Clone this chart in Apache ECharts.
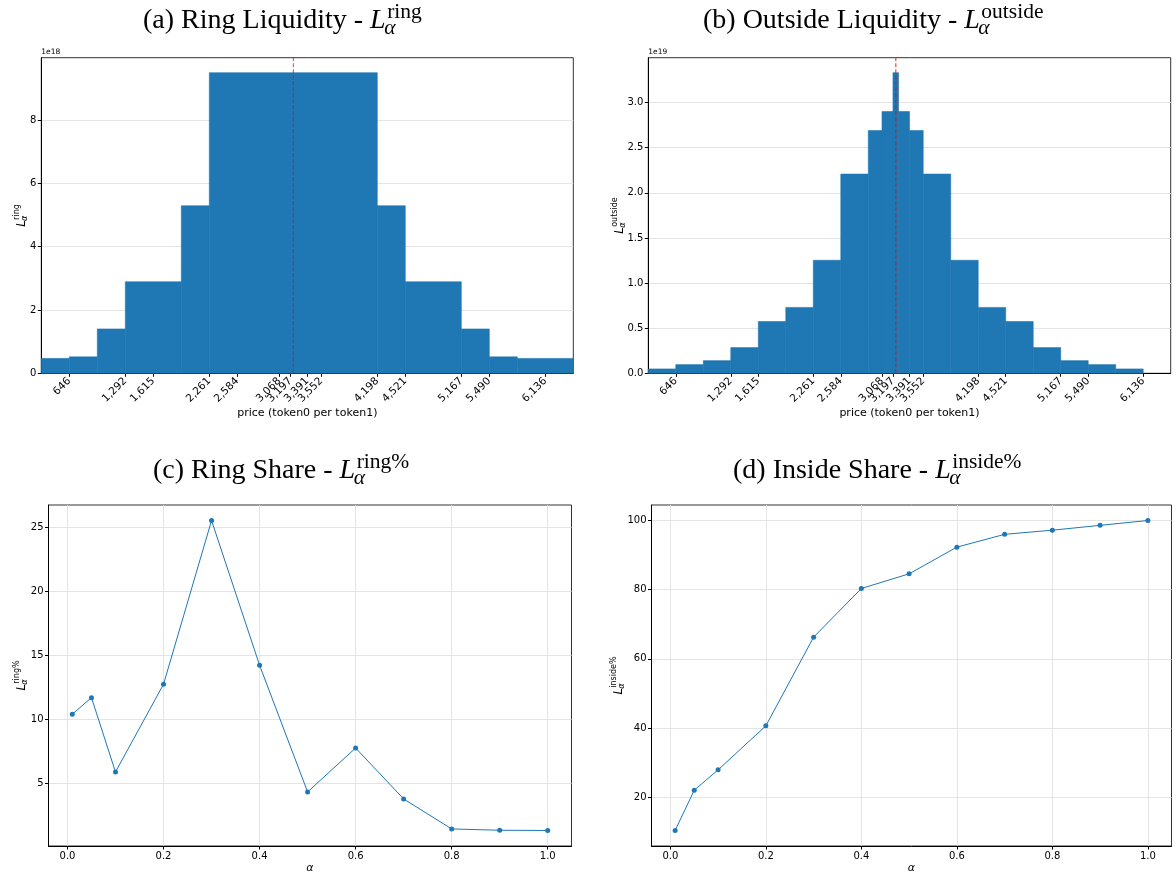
<!DOCTYPE html>
<html><head><meta charset="utf-8">
<script src="https://cdn.jsdelivr.net/npm/echarts@6/dist/echarts.min.js"></script>
<style>html,body{margin:0;padding:0;background:#fff}#c{width:1176px;height:879px}</style>
</head><body><div id="c"></div>
<script>
// ---------------- data ----------------
const priceTicks = [646, 1292, 1615, 2261, 2584, 3068, 3197, 3391, 3552, 4198, 4521, 5167, 5490, 6136];
const currentPrice = 3230;
const ringEdges = [323, 646, 969, 1292, 1938, 2261, 4198, 4521, 5167, 5490, 5813, 6459];
const ringValues = [0.47, 0.52, 1.40, 2.89, 5.29, 9.49, 5.29, 2.89, 1.40, 0.52, 0.47]; // x1e18
const outsideEdges = [323, 646, 969, 1292, 1615, 1938, 2261, 2584, 2907, 3068, 3197, 3262, 3391, 3552, 3875, 4198, 4521, 4844, 5167, 5490, 5813, 6136];
const outsideValues = [0.048, 0.096, 0.14, 0.285, 0.574, 0.73, 1.252, 2.207, 2.689, 2.90, 3.33, 2.90, 2.689, 2.207, 1.252, 0.73, 0.574, 0.285, 0.14, 0.096, 0.048]; // x1e19
const alphas = [0.01, 0.05, 0.1, 0.2, 0.3, 0.4, 0.5, 0.6, 0.7, 0.8, 0.9, 1.0];
const ringShare = [10.38, 11.68, 5.86, 12.73, 25.55, 14.22, 4.3, 7.74, 3.75, 1.4, 1.3, 1.28];
const insideShare = [10.36, 22.02, 27.9, 40.63, 66.27, 80.34, 84.58, 92.3, 96.0, 97.2, 98.6, 100.0];
const ringYTicks = [0, 2, 4, 6, 8];
const outsideYTicks = [0, 0.5, 1.0, 1.5, 2.0, 2.5, 3.0];
const ringShareYTicks = [5, 10, 15, 20, 25];
const insideYTicks = [20, 40, 60, 80, 100];
const alphaTicks = [0, 0.2, 0.4, 0.6, 0.8, 1.0];

// ---------------- helpers ----------------
const blue = '#1f77b4';
const SANS = '"DejaVu Sans"';
function pad(lo, hi) { const r = hi - lo; return [lo - 0.05 * r, hi + 0.05 * r]; }
const ringShareExt = pad(Math.min(...ringShare), Math.max(...ringShare));
const insideExt = pad(Math.min(...insideShare), Math.max(...insideShare));
const alphaExt = pad(Math.min(...alphas), Math.max(...alphas));
const priceMin = ringEdges[0], priceMax = ringEdges[ringEdges.length - 1];
const ringMax = Math.max(...ringValues) * 1.05;
const outsideMax = Math.max(...outsideValues) * 1.05;

const grids = [
  { left: 41.3, top: 57.7, width: 532, height: 315.6 },
  { left: 648.3, top: 57.7, width: 522.4, height: 315.6 },
  { left: 48.5, top: 505, width: 523, height: 341 },
  { left: 651.5, top: 505, width: 520, height: 341 }
].map(g => Object.assign({ show: true, borderColor: '#333', borderWidth: 1, backgroundColor: 'transparent' }, g));

const labelStyle = { fontFamily: 'DejaVu Sans', fontSize: 10, color: '#000' };
const gridLine = { show: true, lineStyle: { color: '#e4e4e4', width: 1 } };

function axis(gridIndex, min, max, ticks, fmt, split, extraLabel) {
  return {
    type: 'value', gridIndex, min, max, scale: true,
    axisLine: { show: true, onZero: false, lineStyle: { color: '#000', width: 1 } },
    axisTick: { show: true, length: 3.5, customValues: ticks, lineStyle: { color: '#000' } },
    axisLabel: Object.assign({ customValues: ticks, formatter: fmt, margin: 5 }, labelStyle, extraLabel || {}),
    splitLine: split ? gridLine : { show: false }
  };
}
const fmtThousands = v => Math.round(v).toLocaleString('en-US');

const hist = (edges, vals) => vals.map((v, i) => [edges[i], edges[i + 1], v]);
function histItem(params, api) {
  const x0 = api.value(0), x1 = api.value(1), y = api.value(2);
  const p0 = api.coord([x0, y]), p1 = api.coord([x1, 0]);
  return { type: 'rect', shape: { x: p0[0], y: p0[1], width: p1[0] - p0[0], height: p1[1] - p0[1] },
    style: { fill: blue, stroke: blue, lineWidth: 0.6 } };
}

// text measurement for composite math labels
const mctx = document.createElement('canvas').getContext('2d');
function tw(t, f) { mctx.font = f; return mctx.measureText(t).width; }
function txt(text, font, x, y, fill) {
  return { type: 'text', x, y, style: { text, font, fill: fill || '#000', align: 'left', verticalAlign: 'middle', textAlign: 'left', textVerticalAlign: 'middle' } };
}
// builds composite "prefix L^sup_sub" ; baseline at local y=0
function mathLabel(o) {
  const ch = [];
  let cx = 0;
  const mid = -0.3 * o.size; // middle offset from baseline
  if (o.prefix) { ch.push(txt(o.prefix, o.prefixFont, cx, mid)); cx += tw(o.prefix, o.prefixFont); }
  ch.push(txt(o.base, o.baseFont, cx, mid)); cx += tw(o.base, o.baseFont);
  const smid = -0.3 * o.ssize;
  ch.push(txt(o.sup, o.supFont, cx + (o.supShift || 0), -o.rise + smid));
  ch.push(txt(o.sub, o.subFont, cx + (o.subShift || 0), o.drop + smid));
  const w = cx + Math.max(tw(o.sup, o.supFont) + (o.supShift || 0), tw(o.sub, o.subFont) + (o.subShift || 0));
  const offX = o.center ? -w / 2 : 0;
  ch.forEach(c => c.x += offX);
  return { type: 'group', x: o.x, y: o.y, rotation: o.rotation || 0, children: ch };
}
const TS = 28, TSS = 21.5;
function title(x, y, prefix, sup) {
  return mathLabel({ x, y, prefix, prefixFont: TS + 'px "Liberation Serif"', base: 'L', baseFont: 'italic ' + TS + 'px "Liberation Serif"',
    size: TS, sup, supFont: TSS + 'px "Liberation Serif"', sub: 'α', subFont: 'italic ' + TSS + 'px "Liberation Serif"', ssize: TSS,
    rise: 10.5, drop: 5.5, supShift: 1.5, subShift: -1.5 });
}
function ylab(x, y, sup) {
  return mathLabel({ x, y, rotation: Math.PI / 2, center: true, base: 'L', baseFont: 'italic 11.5px ' + SANS, size: 11.5,
    sup, supFont: '8px ' + SANS, sub: 'α', subFont: 'italic 8px ' + SANS, ssize: 8, rise: 5.5, drop: 2, supShift: 0.5, subShift: -0.5 });
}
function plain(text, x, y, font, align) {
  return { type: 'text', x, y, style: { text, font, fill: '#000', align: align || 'center', verticalAlign: 'middle', textAlign: align || 'center', textVerticalAlign: 'middle' } };
}

const option = {
  animation: false,
  backgroundColor: '#fff',
  grid: grids,
  xAxis: [
    axis(0, priceMin, priceMax, priceTicks, fmtThousands, false, { rotate: 45, margin: 6, fontSize: 10.5 }),
    axis(1, priceMin, priceMax, priceTicks, fmtThousands, false, { rotate: 45, margin: 6, fontSize: 10.5 }),
    axis(2, alphaExt[0], alphaExt[1], alphaTicks, v => v.toFixed(1), true),
    axis(3, alphaExt[0], alphaExt[1], alphaTicks, v => v.toFixed(1), true)
  ],
  yAxis: [
    axis(0, 0, ringMax, ringYTicks, v => String(v), true),
    axis(1, 0, outsideMax, outsideYTicks, v => v.toFixed(1), true),
    axis(2, ringShareExt[0], ringShareExt[1], ringShareYTicks, v => String(v), true),
    axis(3, insideExt[0], insideExt[1], insideYTicks, v => String(v), true)
  ],
  series: [
    { type: 'custom', xAxisIndex: 0, yAxisIndex: 0, renderItem: histItem, data: hist(ringEdges, ringValues), encode: { x: [0, 1], y: 2 }, z: 2 },
    { type: 'line', xAxisIndex: 0, yAxisIndex: 0, data: [[currentPrice, 0], [currentPrice, ringMax]], symbol: 'none', z: 5,
      lineStyle: { color: 'rgba(214,20,20,0.8)', width: 1, type: [4, 2] } },
    { type: 'custom', xAxisIndex: 1, yAxisIndex: 1, renderItem: histItem, data: hist(outsideEdges, outsideValues), encode: { x: [0, 1], y: 2 }, z: 2 },
    { type: 'line', xAxisIndex: 1, yAxisIndex: 1, data: [[currentPrice, 0], [currentPrice, outsideMax]], symbol: 'none', z: 5,
      lineStyle: { color: 'rgba(214,20,20,0.7)', width: 1.3, type: [4, 2] } },
    { type: 'line', xAxisIndex: 2, yAxisIndex: 2, data: alphas.map((a, i) => [a, ringShare[i]]), symbol: 'circle', symbolSize: 5,
      itemStyle: { color: blue }, lineStyle: { color: blue, width: 1 }, z: 5 },
    { type: 'line', xAxisIndex: 3, yAxisIndex: 3, data: alphas.map((a, i) => [a, insideShare[i]]), symbol: 'circle', symbolSize: 5,
      itemStyle: { color: blue }, lineStyle: { color: blue, width: 1 }, z: 5 }
  ],
  graphic: [
    title(143, 29, '(a) Ring Liquidity - ', 'ring'),
    title(703, 29, '(b) Outside Liquidity - ', 'outside'),
    title(153, 479, '(c) Ring Share - ', 'ring%'),
    title(733, 479, '(d) Inside Share - ', 'inside%'),
    ylab(25, 215.5, 'ring'),
    ylab(623, 215.5, 'outside'),
    ylab(25, 675.5, 'ring%'),
    ylab(622, 675.5, 'inside%'),
    plain('1e18', 41.3, 52.5, '7.5px ' + SANS, 'left'),
    plain('1e19', 648.3, 52.5, '7.5px ' + SANS, 'left'),
    plain('price (token0 per token1)', 307.3, 413, '11px ' + SANS),
    plain('price (token0 per token1)', 909.5, 413, '11px ' + SANS),
    plain('α', 310, 868, 'italic 11px ' + SANS),
    plain('α', 911.5, 868, 'italic 11px ' + SANS)
  ]
};
const chart = echarts.init(document.getElementById('c'));
chart.setOption(option);
</script></body></html>
